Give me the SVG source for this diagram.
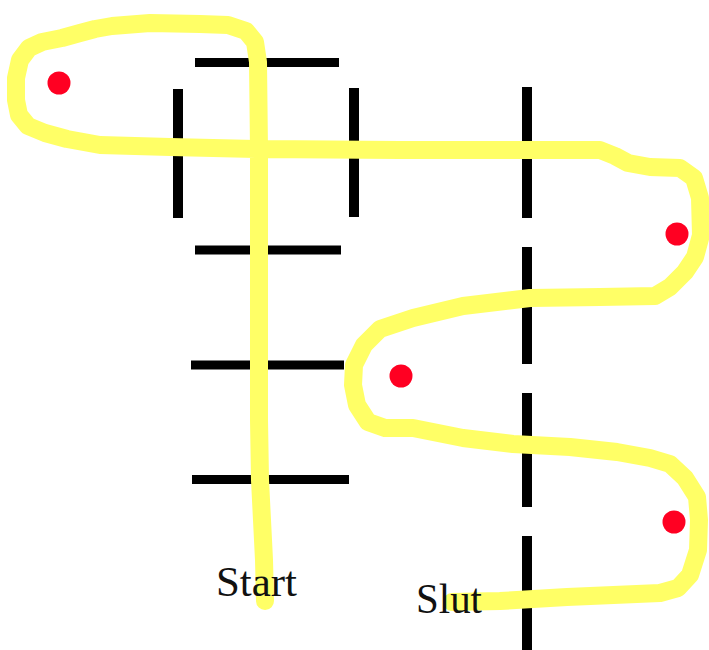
<svg xmlns="http://www.w3.org/2000/svg" width="709" height="650" viewBox="0 0 709 650">
  <style>
    .wall { stroke: #000; stroke-width: 10; stroke-linecap: butt; fill: none; }
    .bar { stroke: #000; stroke-width: 9; stroke-linecap: butt; fill: none; }
    .route { stroke: #ffff66; stroke-width: 18; stroke-linecap: round; stroke-linejoin: round; fill: none; }
    .dot { fill: #ff0022; }
    .label { font-family: "Liberation Serif", "Times New Roman", serif; fill: #111; }
  </style>
  <rect width="709" height="650" fill="#fff"/>

  <!-- clipped heading glyph at the top edge -->
  <text class="label" x="467" y="-8" font-size="34">g</text>

  <!-- ladder-like structure on the left -->
  <g id="ladder">
    <line class="bar" x1="195" y1="62.5" x2="339" y2="62.5"/>
    <line class="wall" x1="178" y1="89" x2="178" y2="218"/>
    <line class="wall" x1="354" y1="88" x2="354" y2="217"/>
    <line class="bar" x1="195" y1="250" x2="341" y2="250"/>
    <line class="bar" x1="191" y1="365" x2="344" y2="365"/>
    <line class="bar" x1="192" y1="479.5" x2="349" y2="479.5"/>
  </g>

  <!-- dashed boundary line -->
  <g id="boundary">
    <line class="wall" x1="527" y1="87" x2="527" y2="218"/>
    <line class="wall" x1="527" y1="247" x2="527" y2="364"/>
    <line class="wall" x1="527" y1="393" x2="527" y2="507"/>
    <line class="wall" x1="527" y1="536" x2="527" y2="650"/>
  </g>

  <!-- hand-drawn route from Start to Slut -->
  <g id="connectors">
    <path class="route" d="M 265 601 L 264 560 L 262 520 L 260 480 L 259 420 L 259 360 L 259 250 L 259 150 L 258 62 L 255 42 L 246 31 L 228 25 L 200 24 L 150 23 L 112 26 L 95 29 L 80 33 L 62 38 L 42 42 L 29 48 L 20 60 L 16 78 L 16 100 L 19 115 L 28 126 L 45 133 L 67 139 L 100 145 L 170 147 L 260 149 L 400 150 L 527 150 L 600 150 L 615 156 L 628 163 L 650 167 L 680 168 L 694 178 L 700 198 L 701 235 L 695 257 L 685 272 L 670 287 L 655 296 L 600 297 L 530 298 L 463 306 L 413 318 L 380 329 L 364 345 L 354 365 L 353 385 L 357 405 L 368 422 L 385 428 L 413 428 L 463 438 L 513 444 L 570 447 L 617 452 L 650 458 L 670 464 L 685 478 L 697 497 L 699 520 L 698 550 L 690 575 L 678 588 L 660 593 L 567 597 L 500 601 L 452 602"/>
  </g>

  <!-- markers -->
  <g id="dot-1"><circle class="dot" cx="59" cy="83" r="11.5"/></g>
  <g id="dot-2"><circle class="dot" cx="677" cy="234" r="11.5"/></g>
  <g id="dot-3"><circle class="dot" cx="401" cy="376" r="11.5"/></g>
  <g id="dot-4"><circle class="dot" cx="674" cy="522" r="11.5"/></g>

  <!-- end labels -->
  <g id="start"><text class="label" x="216" y="596" font-size="42" textLength="81" lengthAdjust="spacingAndGlyphs">Start</text></g>
  <g id="slut"><text class="label" x="416" y="613" font-size="42" textLength="66" lengthAdjust="spacingAndGlyphs">Slut</text></g>
</svg>
